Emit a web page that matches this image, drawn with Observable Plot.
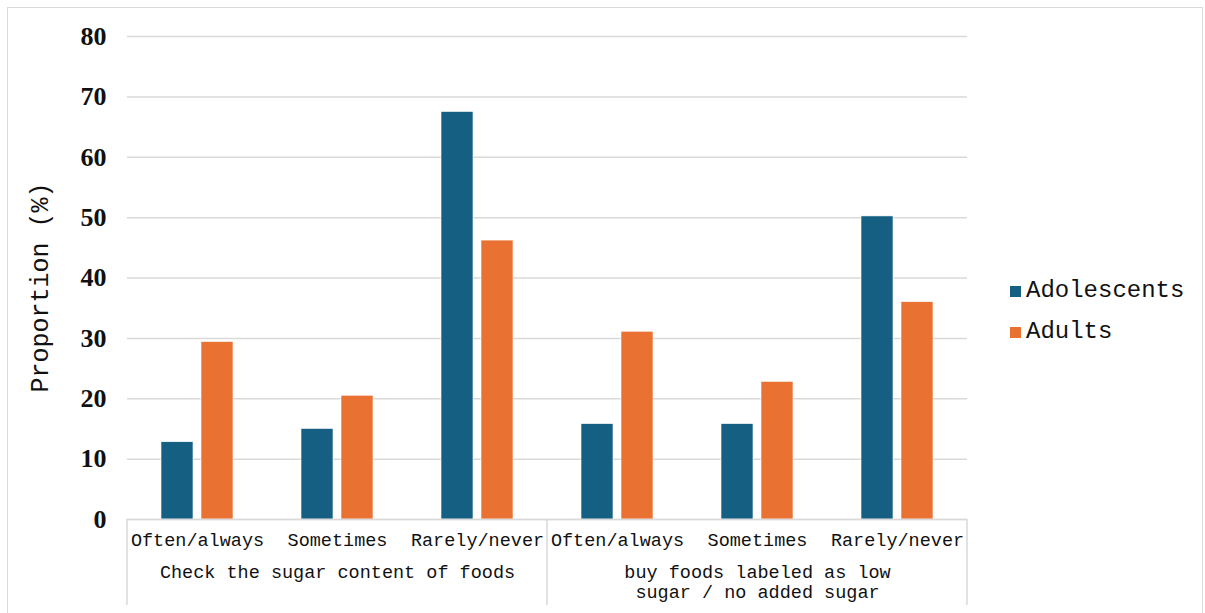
<!DOCTYPE html>
<html>
<head>
<meta charset="utf-8">
<script src="https://cdn.jsdelivr.net/npm/d3@7"></script>
<script src="https://cdn.jsdelivr.net/npm/@observablehq/plot@0.6"></script>
<style>
  html, body { margin: 0; padding: 0; background: #fff; overflow: hidden; }
  #wrap { position: relative; width: 1205px; height: 613px; }
  #border { position: absolute; left: 7px; top: 7px; width: 1196px; height: 640px; border: 1.5px solid #d9d9d9; box-sizing: border-box; }
  #chart { position: absolute; left: 0; top: 0; }
  #legend { position: absolute; left: 1010px; top: 277px; font-family: "Liberation Mono", monospace; font-size: 24px; color: #111; }
  .row { display: flex; align-items: baseline; height: 41px; }
  .sw { display: inline-block; width: 11px; height: 11px; margin-right: 5px; }
</style>
</head>
<body>
<div id="wrap">
  <div id="border"></div>
  <div id="chart"></div>
  <div id="legend"></div>
</div>
<script>
// ---- data ----
const questionKeys = ["check", "buy"];
const questionLabels = ["Check the sugar content of foods", "buy foods labeled as low\nsugar / no added sugar"];
const frequencies = ["Often/always", "Sometimes", "Rarely/never"];
const series = ["Adolescents", "Adults"];
const colors = ["#156082", "#E97132"];
const adolescents = [12.8, 15.0, 67.5, 15.8, 15.8, 50.2];
const adults = [29.4, 20.5, 46.2, 31.1, 22.8, 36.0];
const yTicks = [0, 10, 20, 30, 40, 50, 60, 70, 80];

// ---- table ----
const cats = [];
questionKeys.forEach(q => frequencies.forEach(f => cats.push(q + "|" + f)));
const rows = [];
cats.forEach((c, i) => {
  rows.push({cat: c, series: "Adolescents", value: adolescents[i]});
  rows.push({cat: c, series: "Adults", value: adults[i]});
});
const groupRows = questionKeys.map((q, i) => ({cat: q + "|" + frequencies[1], label: questionLabels[i]}));

const mono = "'Liberation Mono', 'Courier New', monospace";

const plot = Plot.plot({
  width: 1205,
  height: 613,
  marginLeft: 126,
  marginRight: 238,
  marginTop: 36,
  marginBottom: 94,
  style: {background: "transparent", fontFamily: mono, color: "#111"},
  fx: {domain: cats, padding: 0, label: null},
  x: {domain: series, paddingInner: 0.2, paddingOuter: 0.85, axis: null},
  y: {domain: [0, 80], ticks: yTicks, label: null},
  color: {domain: series, range: colors},
  marks: [
    Plot.gridY(yTicks, {stroke: "#d9d9d9", strokeOpacity: 1, strokeWidth: 1.5}),
    Plot.barY(rows, {fx: "cat", x: "series", y: "value", fill: "series", stroke: "#fff", strokeWidth: 0.6}),
    Plot.ruleY([0], {stroke: "#d9d9d9", strokeWidth: 1.5}),
    Plot.axisY(yTicks, {tickSize: 0, tickPadding: 21, fontFamily: "'Liberation Serif', serif", fontWeight: "bold", fontSize: 26, label: null}),
    Plot.axisFx({anchor: "bottom", tickSize: 0, tickPadding: 13, fontSize: 18.5, fontFamily: mono, label: null, tickFormat: d => d.split("|")[1]}),
    Plot.text(groupRows, {fx: "cat", text: "label", frameAnchor: "bottom", lineAnchor: "top", dy: 44, fontSize: 18.5, fontFamily: mono, lineHeight: 1.1, fill: "#111"})
  ]
});
document.getElementById("chart").appendChild(plot);

// ---- category box dividers, from the fx scale ----
const fx = plot.scale("fx");
const y = plot.scale("y");
const bw = fx.bandwidth;
const svg = d3.select(plot);
const y0 = y.apply(0);
const xs = [fx.apply(cats[0]), fx.apply(cats[3]), fx.apply(cats[5]) + bw];
svg.append("g").selectAll("line").data(xs).join("line")
  .attr("x1", d => d).attr("x2", d => d)
  .attr("y1", y0).attr("y2", y0 + 86)
  .attr("stroke", "#d9d9d9").attr("stroke-width", 1.5);

// ---- y axis title ----
svg.append("text")
  .attr("transform", `translate(41,${(y.apply(80) + y0) / 2 + 10}) rotate(-90)`)
  .attr("text-anchor", "middle")
  .attr("dominant-baseline", "middle")
  .attr("font-family", mono)
  .attr("font-size", 25)
  .attr("fill", "#111")
  .text("Proportion (%)");

// ---- legend ----
const color = plot.scale("color");
const legend = d3.select("#legend");
color.domain.forEach((d, i) => {
  const row = legend.append("div").attr("class", "row");
  row.append("span").attr("class", "sw").style("background", color.range[i]);
  row.append("span").text(d);
});
</script>
</body>
</html>
